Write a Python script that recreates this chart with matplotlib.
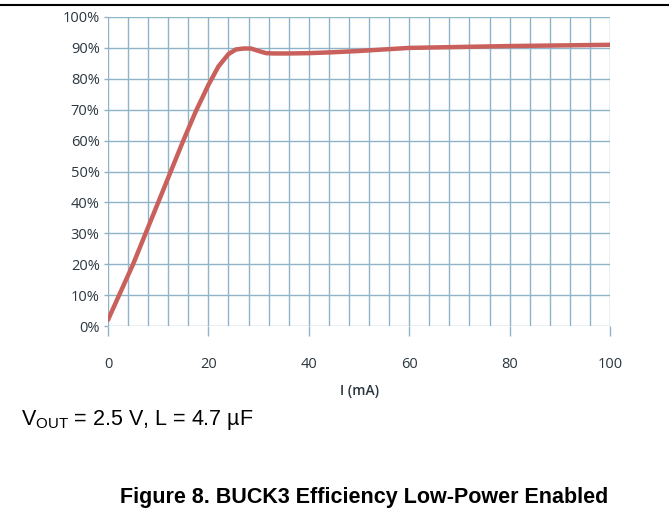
import numpy as np
import matplotlib.pyplot as plt
from matplotlib.lines import Line2D

# efficiency curve
current_ma = [0, 2.5, 5, 7.5, 10, 12.5, 15, 17.5, 20, 22, 24, 25.5, 27, 28.5, 30, 31.5, 33, 36, 40, 45, 50, 55, 60, 70, 80, 90, 100]
efficiency = [2, 11, 20, 30, 40, 50, 60, 69.5, 78, 84, 88, 89.5, 89.8, 89.8, 89.0, 88.3, 88.2, 88.2, 88.3, 88.6, 89.0, 89.5, 90.0, 90.3, 90.6, 90.8, 91.0]

x_major = [0, 20, 40, 60, 80, 100]
x_minor = np.arange(0, 101, 4)
y_ticks = np.arange(0, 101, 10)
y_labels = [f"{v}%" for v in y_ticks]

fig = plt.figure(figsize=(6.69, 5.08), dpi=100)
ax = fig.add_axes([108 / 669, 1 - 326 / 508, 502 / 669, 309 / 508])

grid_color = '#8fb4c9'
for xv in x_minor:
    ax.axvline(xv, color=grid_color, lw=1.0, zorder=1)
for yv in y_ticks:
    ax.axhline(yv, color=grid_color, lw=1.0, zorder=1)

ax.plot(current_ma, efficiency, color='#c9605b', lw=3.2, solid_capstyle='round', zorder=3)

ax.set_xlim(0, 100)
ax.set_ylim(0, 100)
ax.set_xticks(x_major)
ax.set_yticks(y_ticks)
ax.set_yticklabels(y_labels)
for s in ax.spines.values():
    s.set_visible(False)
ax.tick_params(axis='x', length=7, width=1, color=grid_color, pad=15,
               labelsize=10.5, labelcolor='#2a3640')
ax.tick_params(axis='y', length=3, width=1, color=grid_color, pad=3,
               labelsize=10.5, labelcolor='#2a3640')
for lab in ax.get_xticklabels() + ax.get_yticklabels():
    lab.set_family('Open Sans')
ax.set_xlabel('I (mA)', fontsize=10, family='Open Sans', weight='semibold',
              color='#2a3640', labelpad=9)

# rule across the top
fig.add_artist(Line2D([0, 1], [1 - 5 / 508, 1 - 5 / 508], color='black', lw=1.5))

fig.text(21 / 669, 1 - 420 / 508, r'V$_{\mathregular{OUT}}$ = 2.5 V, L = 4.7 µF',
         fontsize=15.5, family='Liberation Sans', va='center', ha='left')
fig.text(364 / 669, 1 - 498 / 508, 'Figure 8. BUCK3 Efficiency Low-Power Enabled',
         fontsize=15.5, family='Liberation Sans', weight='bold', va='center', ha='center')

fig.savefig('out.png', dpi=100)
